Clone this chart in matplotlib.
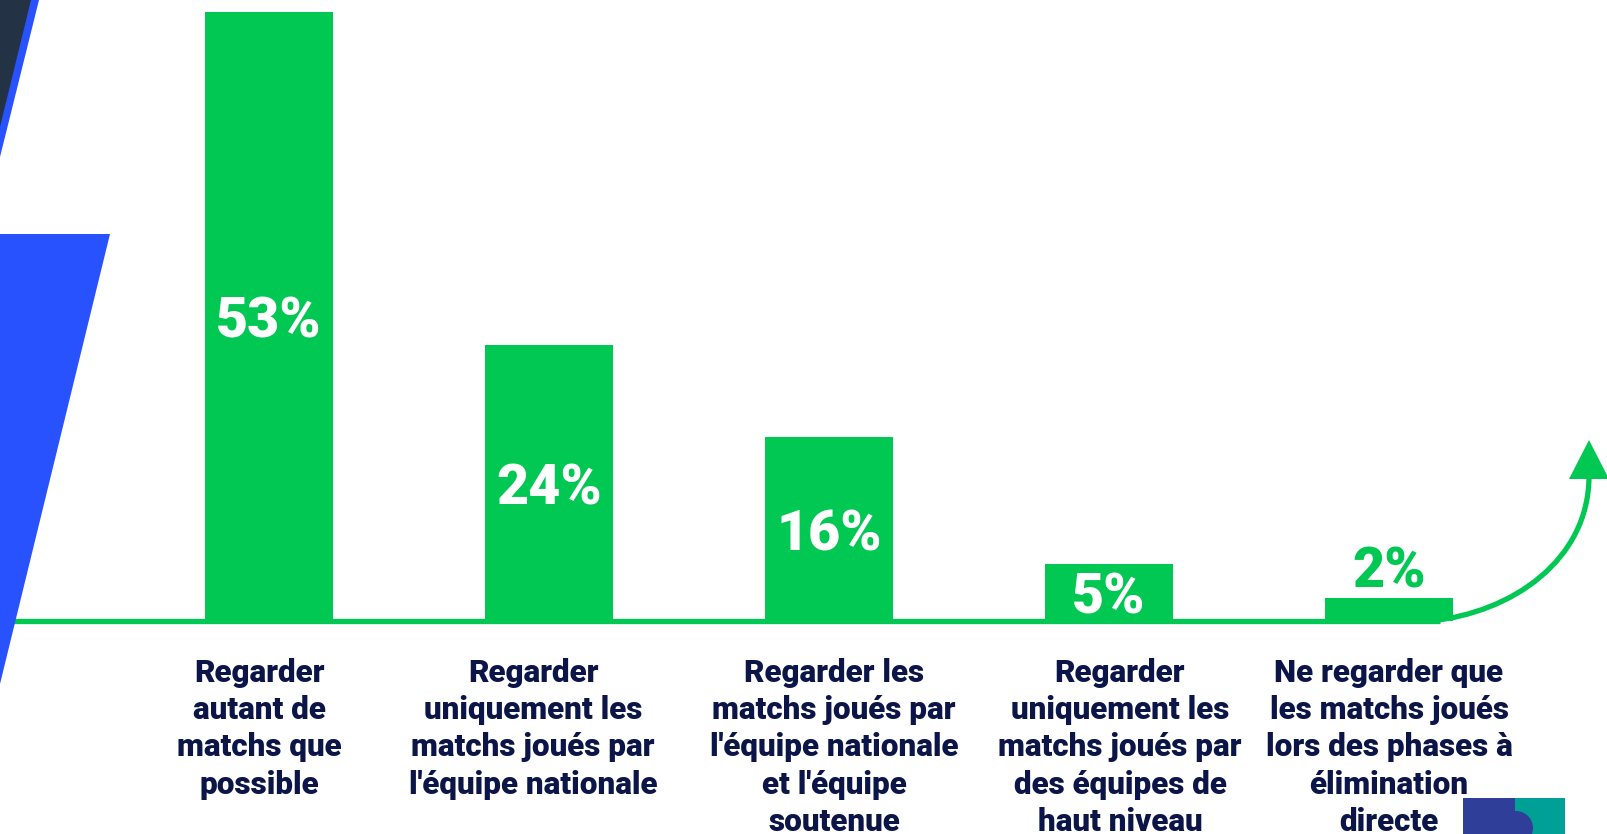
import matplotlib.pyplot as plt
from matplotlib.patches import Polygon, Rectangle, Circle, PathPatch
from matplotlib.path import Path

# data
categories = [
    "Regarder\nautant de\nmatchs que\npossible",
    "Regarder\nuniquement les\nmatchs joués par\nl'équipe nationale",
    "Regarder les\nmatchs joués par\nl'équipe nationale\net l'équipe\nsoutenue",
    "Regarder\nuniquement les\nmatchs joués par\ndes équipes de\nhaut niveau",
    "Ne regarder que\nles matchs joués\nlors des phases à\nélimination\ndirecte",
]
values = [53, 24, 16, 5, 2]
value_labels = ["53%", "24%", "16%", "5%", "2%"]

GREEN = "#00C853"
BLUE = "#2952FF"
NAVY = "#0B1547"

plt.rcParams['font.family'] = ['Roboto', 'DejaVu Sans']

W, H = 1608, 834
fig = plt.figure(figsize=(W / 100, H / 100), dpi=100)
fig.patch.set_facecolor("white")

# overlay in pixel coords for the decorations
deco = fig.add_axes([0, 0, 1, 1], zorder=0)
deco.set_xlim(0, W)
deco.set_ylim(H, 0)
deco.axis("off")

ax = fig.add_axes([0, 0, 1, 1], zorder=1)
ax.patch.set_visible(False)
ax.axis("off")

# 280 px between bars, 11.5 px per percent, baseline 621 px from top
ax.set_xlim(-269 / 280, (W - 269) / 280)
ax.set_ylim(-(H - 621) / 11.5, 621 / 11.5)

# baseline + curved arrow
deco.plot([0, 1440], [621, 621], color=GREEN, lw=3.8, solid_capstyle="butt", zorder=1)
curve = Path([(1430, 621), (1512, 613), (1589, 560), (1589, 476)],
             [Path.MOVETO, Path.CURVE4, Path.CURVE4, Path.CURVE4])
deco.add_patch(PathPatch(curve, fill=False, edgecolor=GREEN, lw=3.8, zorder=1))
deco.add_patch(Polygon([(1569, 479), (1589, 440), (1609, 479)], closed=True,
                       facecolor=GREEN, edgecolor="none", zorder=2))

# left decorations
deco.add_patch(Polygon([(0, 0), (39, 0), (0, 157)], closed=True, facecolor=BLUE, edgecolor="none", zorder=3))
deco.add_patch(Polygon([(0, 0), (31, 0), (0, 127)], closed=True, facecolor="#243246", edgecolor="none", zorder=4))
deco.add_patch(Polygon([(0, 234), (110, 234), (0, 684)], closed=True, facecolor=BLUE, edgecolor="none", zorder=3))

# small logo bottom right
deco.add_patch(Rectangle((1463, 798), 52, 40, facecolor="#2F3E99", edgecolor="none", zorder=3))
deco.add_patch(Rectangle((1515, 798), 50, 40, facecolor="#00A097", edgecolor="none", zorder=3))
deco.add_patch(Circle((1516, 828), 17, facecolor="#2F3E99", edgecolor="none", zorder=4))

# bars
x = list(range(len(values)))
ax.bar(x, values, width=128 / 280, color=GREEN, zorder=2)

for i, (v, lab) in enumerate(zip(values, value_labels)):
    if v >= 4:
        ax.annotate(lab, (i, v / 2), xytext=(0, -6), textcoords="offset pixels",
                    ha="center", va="center", color="white",
                    fontsize=40, fontweight="heavy", zorder=3)
    else:
        ax.annotate(lab, (i, v), xytext=(0, 26), textcoords="offset pixels",
                    ha="center", va="center", color=GREEN,
                    fontsize=40, fontweight="heavy", zorder=3)

# category labels below the baseline
label_dx = [-10, -16, 5, 11, 0]
for i, (cat, dx) in enumerate(zip(categories, label_dx)):
    ax.annotate(cat, (i, 0), xytext=(dx, -37), textcoords="offset pixels",
                ha="center", va="top", color=NAVY, fontsize=22.6,
                fontweight="heavy", linespacing=1.3, annotation_clip=False)

fig.savefig("out.png", dpi=100)
